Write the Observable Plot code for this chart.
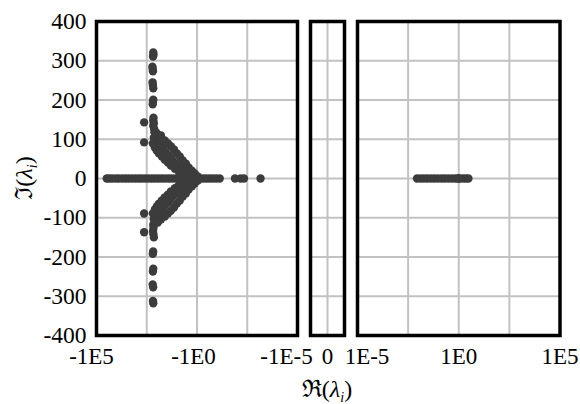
<!DOCTYPE html>
<html>
<head>
<meta charset="utf-8">
<script src="https://cdn.jsdelivr.net/npm/d3@7"></script>
<script src="https://cdn.jsdelivr.net/npm/@observablehq/plot@0.6"></script>
<style>
  html, body { margin: 0; padding: 0; background: #fff; }
  #wrap { position: relative; width: 580px; height: 404px; overflow: hidden; font-family: "Liberation Serif", "Times New Roman", "DejaVu Serif", serif; }
  .panel { position: absolute; top: 0; }
  .lab { position: absolute; font-size: 24px; white-space: nowrap; color: #000; font-family: "Liberation Serif", "Times New Roman", "DejaVu Serif", serif; }
  .lab sub { font-size: 14px; vertical-align: -5px; line-height: 0; }
  svg text { font-family: "Liberation Serif", "Times New Roman", "DejaVu Serif", serif !important; }
</style>
</head>
<body>
<div id="wrap">
  <div class="panel" id="pL" style="left:0px"></div>
  <div class="panel" id="pM" style="left:300px"></div>
  <div class="panel" id="pR" style="left:346px"></div>
  <div class="lab" style="left:327px; top:387px; transform:translate(-50%,-50%)">ℜ(<i>λ</i><sub><i>i</i></sub>)</div>
  <div class="lab" style="left:22px; top:178px; transform:translate(-50%,-50%) rotate(-90deg)">ℑ(<i>λ</i><sub><i>i</i></sub>)</div>
</div>
<script>
// ---- axis ticks / labels ----
const yTicks = [-400, -300, -200, -100, 0, 100, 200, 300, 400];
const leftTicks = [-1e5, -1, -1e-5];
const leftTickLabels = ["-1E5", "-1E0", "-1E-5"];
const leftGrid = [-316.2, -1, -0.003162];
const midTicks = [0];
const midTickLabels = ["0"];
const rightTicks = [1e-5, 1, 1e5];
const rightTickLabels = ["1E-5", "1E0", "1E5"];
const rightGrid = [0.003162, 1, 316.2];

// ---- eigenvalues with negative real part (left panel) ----
// purely real ones
const realAxisNegRe = [-31000, -23000, -16500, -11000, -7800, -5200, -3600, -2500, -1700, -1150, -800, -560, -380, -260, -180, -125, -85, -58, -40, -27, -19, -13, -9, -6.2, -4.3, -3, -2.1, -1.4, -1, -0.68, -0.47, -0.33, -0.23, -0.16, -0.11, -0.074, -0.0129, -0.0068, -0.0046, -0.00069];
// vertical strand, upper / lower
const strandUpRe = [-150, -146, -154, -165, -160, -156, -162, -157, -150, -150, -155, -160, -146, -150, -141, -150, -136, -131];
const strandUpIm = [321, 315, 311, 285, 279, 273, 245, 238, 230, 201, 195, 189, 155, 148, 141, 134, 126, 118];
const strandLoRe = [-150, -146, -154, -148, -140, -152, -158, -150, -156, -160, -152, -155, -150];
const strandLoIm = [-118, -126, -134, -142, -150, -186, -192, -230, -237, -270, -277, -312, -318];
// isolated points left of the strand
const outlierRe = [-427, -427, -427, -427];
const outlierIm = [143, 92, -89, -137];
// arrow-shaped branches
const branchRe = [-141, -100, -79, -63, -50, -40, -32, -25, -20, -16, -11.2, -8.1, -5.8, -4.1, -2.9, -2.0, -1.45, -1.0,
  -89, -63, -40, -28, -20, -14, -10, -7.2, -5.1, -3.6, -2.6, -1.8, -1.3, -0.91,
  -157, -125, -100, -79, -56, -40, -28, -20, -12.6, -8.1, -5.1, -3.2, -63, -112];
const branchUpIm = [104, 97, 89, 82, 76, 69, 64, 59, 51, 46, 38, 31, 23, 15, 10, 5, 2.5, 1,
  112, 104, 97, 89, 82, 74, 64, 56, 46, 38, 28, 20, 13, 5,
  89, 79, 71, 64, 56, 48, 41, 33, 25, 18, 10, 5, 110, 118];
const branchLoIm = [-104, -97, -89, -82, -76, -69, -64, -59, -51, -46, -38, -31, -23, -15, -10, -5, -2.5, -1,
  -112, -104, -97, -89, -82, -74, -64, -56, -46, -38, -28, -20, -13, -5,
  -89, -79, -71, -64, -56, -48, -41, -33, -25, -18, -10, -5, -104, -112];

// ---- eigenvalues with positive real part (right panel), all real ----
const posRe = [0.0087, 0.013, 0.019, 0.028, 0.042, 0.062, 0.092, 0.14, 0.2, 0.3, 0.45, 0.66, 0.9, 1.0, 1.1, 1.6, 2.2, 3.0];

// build tables for the library
const pairs = (re, im) => re.map((r, i) => ({re: r, im: im[i]}));
const leftData = [
  ...realAxisNegRe.map(re => ({re, im: 0})),
  ...pairs(strandUpRe, strandUpIm),
  ...pairs(strandLoRe, strandLoIm),
  ...pairs(outlierRe, outlierIm),
  ...pairs(branchRe, branchUpIm),
  ...pairs(branchRe, branchLoIm)
];
const rightData = posRe.map(re => ({re, im: 0}));

const FONT = "'Liberation Serif', 'Times New Roman', 'DejaVu Serif', serif";
const gridStyle = {stroke: "#c2c2c2", strokeOpacity: 1, strokeWidth: 2};
const dotStyle = {fill: "#3c3c3c", r: 4.2, stroke: "none"};
const frameStyle = {stroke: "#000", strokeWidth: 3.5};
const common = {
  height: 404, marginTop: 21, marginBottom: 69,
  style: {background: "transparent", overflow: "visible", fontFamily: FONT, fontSize: "23px", color: "#000"},
  y: {domain: [-400, 400], axis: null}
};
const axisText = {tickSize: 0, label: null, fontSize: 23, fontFamily: FONT, tickPadding: 12};
// horizontal nudges of the edge tick labels (as in the reference)
const labelShift = {"-1E5": -5, "-1E0": -3.5, "-1E-5": -11, "0": 0, "1E-5": 9.5, "1E0": 0, "1E5": 0};
function xAxes(ticks, labels) {
  return ticks.map((t, i) => Plot.axisX([t], {...axisText, dx: labelShift[labels[i]], tickFormat: () => labels[i]}));
}

const pL = Plot.plot({
  ...common, width: 310, marginLeft: 96, marginRight: 13,
  x: {type: "log", domain: [-1e5, -1e-5], axis: null},
  marks: [
    Plot.gridX(leftGrid, gridStyle),
    Plot.gridY(yTicks, gridStyle),
    Plot.dot(leftData, {x: "re", y: "im", ...dotStyle}),
    Plot.frame(frameStyle),
    ...xAxes(leftTicks, leftTickLabels),
    Plot.axisY(yTicks, {...axisText, tickPadding: 10, fontSize: 23.5, tickFormat: d => String(d)})
  ]
});
const pM = Plot.plot({
  ...common, width: 56, marginLeft: 10, marginRight: 12,
  x: {type: "linear", domain: [-1, 1], axis: null},
  marks: [
    Plot.gridX(midTicks, gridStyle),
    Plot.gridY(yTicks, gridStyle),
    Plot.frame(frameStyle),
    ...xAxes(midTicks, midTickLabels)
  ]
});
const pR = Plot.plot({
  ...common, width: 234, marginLeft: 11, marginRight: 20.5,
  x: {type: "log", domain: [1e-5, 1e5], axis: null},
  marks: [
    Plot.gridX(rightGrid, gridStyle),
    Plot.gridY(yTicks, gridStyle),
    Plot.dot(rightData, {x: "re", y: "im", ...dotStyle}),
    Plot.frame(frameStyle),
    ...xAxes(rightTicks, rightTickLabels)
  ]
});
document.getElementById("pL").appendChild(pL);
document.getElementById("pM").appendChild(pM);
document.getElementById("pR").appendChild(pR);
// make sure every SVG text uses the serif face
d3.selectAll("#wrap svg, #wrap svg g, #wrap svg text").style("font-family", "'Liberation Serif', serif");
</script>
</body>
</html>
